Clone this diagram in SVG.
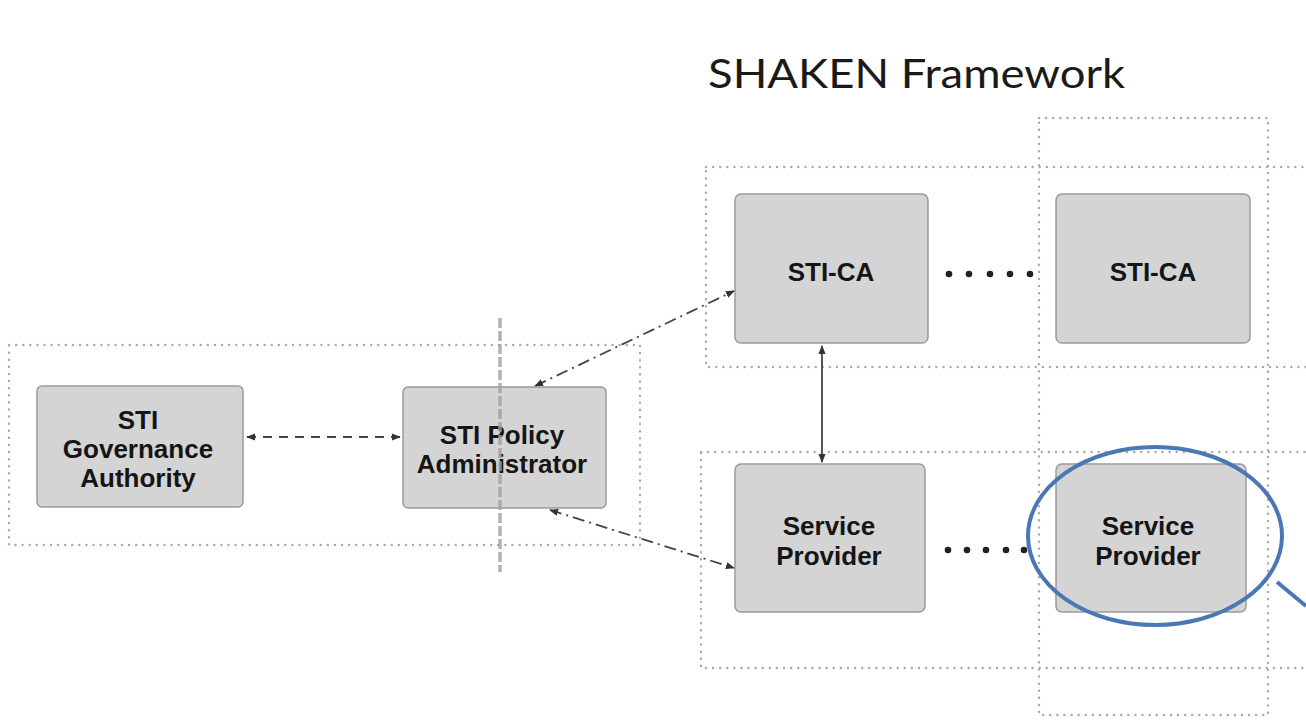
<svg xmlns="http://www.w3.org/2000/svg" width="1306" height="721" viewBox="0 0 1306 721">
<defs>
<style>
.grp{fill:none;stroke:#aaaaaa;stroke-width:2.4;stroke-dasharray:0.1 7;stroke-linecap:round}
.node{fill:#d4d4d4;stroke:#9a9a9a;stroke-width:1.5}
.lbl{font-family:"Liberation Sans",Arimo,Helvetica,sans-serif;font-weight:700;font-size:26px;fill:#151515;text-anchor:middle}
.title{font-family:Lato,"Open Sans",sans-serif;font-size:40px;fill:#1a1a1a}
.dash{fill:none;stroke:#444;stroke-width:1.8;stroke-dasharray:9 7}
.dashdot{fill:none;stroke:#444;stroke-width:1.8;stroke-dasharray:12 5 2 5}
.solid{fill:none;stroke:#555;stroke-width:2}
.ell{fill:#222}
</style>
<marker id="ah" viewBox="0 0 10 10" refX="9" refY="5" markerWidth="9" markerHeight="9" markerUnits="userSpaceOnUse" orient="auto-start-reverse">
<path d="M0,1 L10,5 L0,9 z" fill="#333"/>
</marker>
</defs>
<rect width="1306" height="721" fill="#ffffff"/>
<text class="title" x="708" y="88" textLength="417" lengthAdjust="spacingAndGlyphs">SHAKEN Framework</text>
<g id="groups">
<rect class="grp" x="9" y="345" width="631" height="200"/>
<rect class="grp" x="706" y="167" width="640" height="200"/>
<rect class="grp" x="701" y="452" width="640" height="216"/>
<rect class="grp" x="1039" y="118" width="229" height="597"/>
</g>
<g id="connectors">
<line class="dash" x1="247" y1="437" x2="400" y2="437" marker-start="url(#ah)" marker-end="url(#ah)"/>
<line class="dashdot" x1="535" y1="386" x2="734" y2="291" marker-start="url(#ah)" marker-end="url(#ah)"/>
<line class="dashdot" x1="550" y1="510" x2="734" y2="568" marker-start="url(#ah)" marker-end="url(#ah)"/>
<line class="solid" x1="822" y1="346" x2="822" y2="462" marker-start="url(#ah)" marker-end="url(#ah)"/>
</g>
<g id="node-gov">
<rect class="node" x="37" y="386" width="206" height="121" rx="5"/>
<text class="lbl" x="138" y="429">STI</text>
<text class="lbl" x="138" y="458">Governance</text>
<text class="lbl" x="138" y="487">Authority</text>
</g>
<g id="node-pa">
<rect class="node" x="403" y="387" width="203" height="121" rx="5"/>
<text class="lbl" x="502" y="444">STI Policy</text>
<text class="lbl" x="502" y="473">Administrator</text>
</g>
<g id="node-ca1">
<rect class="node" x="735" y="194" width="193" height="149" rx="6"/>
<text class="lbl" x="831" y="281">STI-CA</text>
</g>
<g id="node-ca2">
<rect class="node" x="1056" y="194" width="194" height="149" rx="6"/>
<text class="lbl" x="1153" y="281">STI-CA</text>
</g>
<g id="node-sp1">
<rect class="node" x="735" y="464" width="190" height="148" rx="6"/>
<text class="lbl" x="829" y="535">Service</text>
<text class="lbl" x="829" y="565">Provider</text>
</g>
<g id="node-sp2">
<rect class="node" x="1056" y="464" width="190" height="148" rx="6"/>
<text class="lbl" x="1148" y="535">Service</text>
<text class="lbl" x="1148" y="565">Provider</text>
</g>
<g id="ellipsis">
<circle class="ell" cx="949" cy="274" r="3.3"/>
<circle class="ell" cx="969" cy="274" r="3.3"/>
<circle class="ell" cx="990" cy="274" r="3.3"/>
<circle class="ell" cx="1010" cy="274" r="3.3"/>
<circle class="ell" cx="1030" cy="274" r="3.3"/>
<circle class="ell" cx="948" cy="550" r="3.3"/>
<circle class="ell" cx="967" cy="550" r="3.3"/>
<circle class="ell" cx="986" cy="550" r="3.3"/>
<circle class="ell" cx="1006" cy="550" r="3.3"/>
<circle class="ell" cx="1024" cy="550" r="3.3"/>
</g>
<line x1="500" y1="318" x2="500" y2="572" stroke="#a0a0a0" stroke-width="3.5" stroke-dasharray="10 3" opacity="0.8"/>
<g id="highlight">
<ellipse cx="1155" cy="536" rx="127" ry="89" fill="none" stroke="#4a78b4" stroke-width="4"/>
<line x1="1277" y1="582" x2="1306" y2="606" stroke="#4a78b4" stroke-width="4"/>
</g>
</svg>
